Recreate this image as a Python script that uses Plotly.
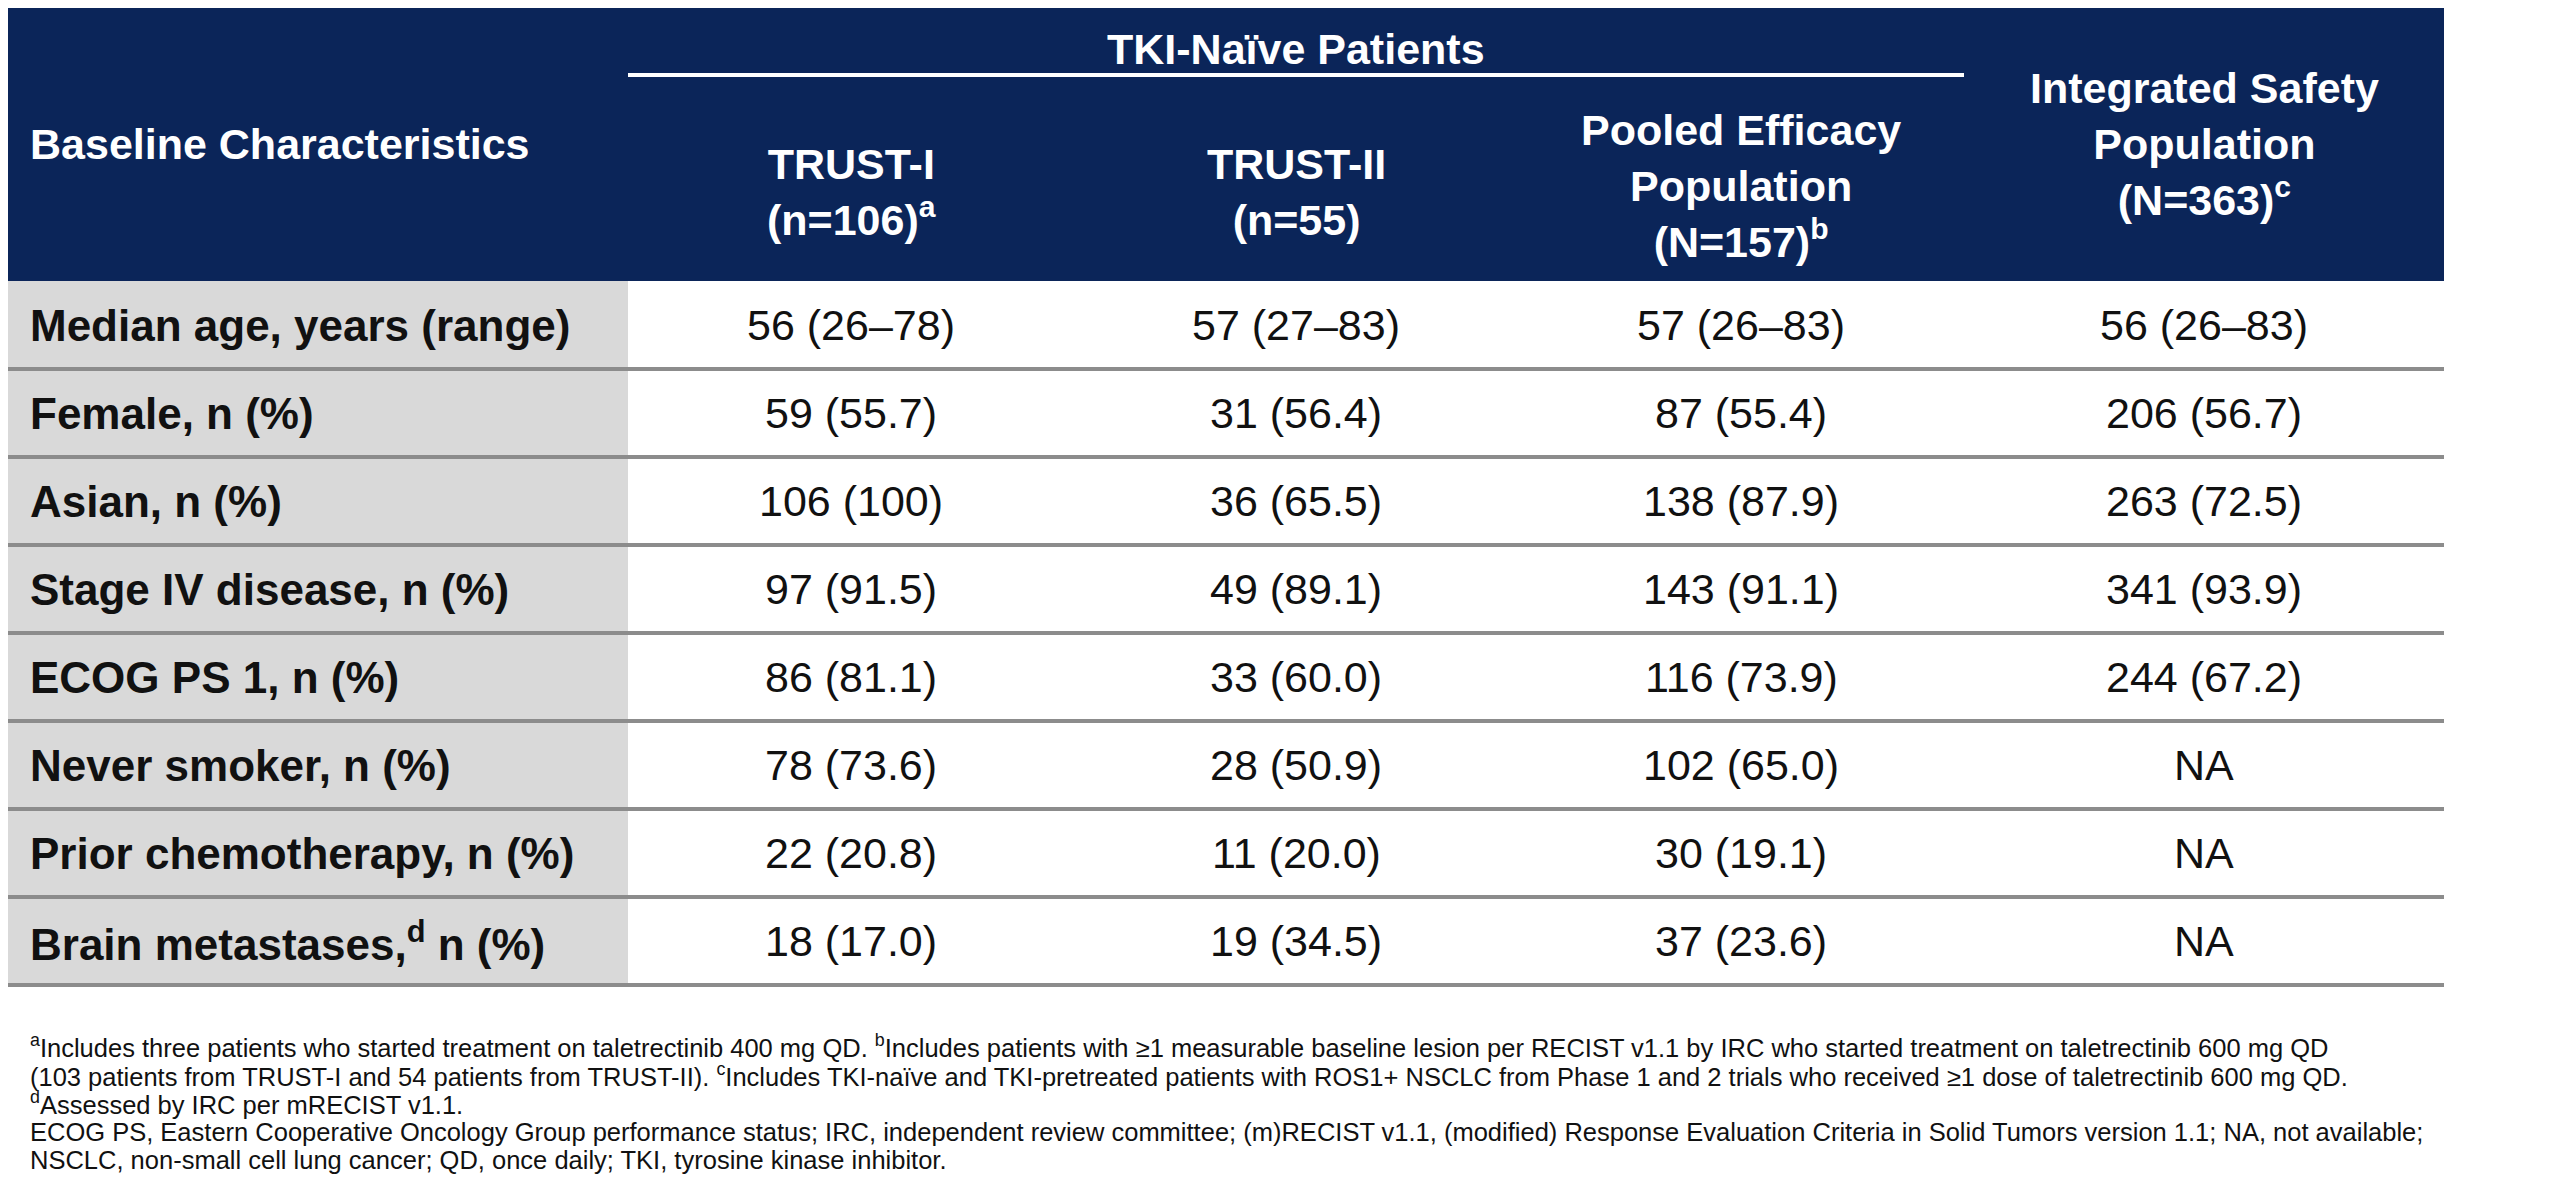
import plotly.graph_objects as go

# table data
characteristics = ["Median age, years (range)", "Female, n (%)", "Asian, n (%)",
                   "Stage IV disease, n (%)", "ECOG PS 1, n (%)", "Never smoker, n (%)",
                   "Prior chemotherapy, n (%)", "Brain metastases,<sup>d</sup> n (%)"]
trust1 = ["56 (26–78)", "59 (55.7)", "106 (100)", "97 (91.5)", "86 (81.1)", "78 (73.6)", "22 (20.8)", "18 (17.0)"]
trust2 = ["57 (27–83)", "31 (56.4)", "36 (65.5)", "49 (89.1)", "33 (60.0)", "28 (50.9)", "11 (20.0)", "19 (34.5)"]
pooled = ["57 (26–83)", "87 (55.4)", "138 (87.9)", "143 (91.1)", "116 (73.9)", "102 (65.0)", "30 (19.1)", "37 (23.6)"]
integrated = ["56 (26–83)", "206 (56.7)", "263 (72.5)", "341 (93.9)", "244 (67.2)", "NA", "NA", "NA"]
col_headers = ["TRUST-I<br>(n=106)<sup>a</sup>", "TRUST-II<br>(n=55)",
               "Pooled Efficacy<br>Population<br>(N=157)<sup>b</sup>",
               "Integrated Safety<br>Population<br>(N=363)<sup>c</sup>"]
footnotes = [
    "<sup>a</sup>Includes three patients who started treatment on taletrectinib 400 mg QD. <sup>b</sup>Includes patients with ≥1 measurable baseline lesion per RECIST v1.1 by IRC who started treatment on taletrectinib 600 mg QD",
    "(103 patients from TRUST-I and 54 patients from TRUST-II). <sup>c</sup>Includes TKI-naïve and TKI-pretreated patients with ROS1+ NSCLC from Phase 1 and 2 trials who received ≥1 dose of taletrectinib 600 mg QD.",
    "<sup>d</sup>Assessed by IRC per mRECIST v1.1.",
    "ECOG PS, Eastern Cooperative Oncology Group performance status; IRC, independent review committee; (m)RECIST v1.1, (modified) Response Evaluation Criteria in Solid Tumors version 1.1; NA, not available;",
    "NSCLC, non-small cell lung cancer; QD, once daily; TKI, tyrosine kinase inhibitor.",
]

NAVY = "#0b2559"
FONT = "Liberation Sans, Arial, sans-serif"
W, H = 2560, 1204
bounds = [0, 620, 1066, 1510, 1956, 2436]
head_bot = 273
row_h = 88

fig = go.Figure()
shapes = []
ann = []

shapes.append(dict(type="rect", x0=0, x1=bounds[-1], y0=0, y1=head_bot, fillcolor=NAVY, line_width=0, layer="below"))
shapes.append(dict(type="rect", x0=0, x1=bounds[1], y0=head_bot, y1=head_bot + row_h * len(characteristics),
                   fillcolor="#d9d9d9", line_width=0, layer="below"))
shapes.append(dict(type="line", x0=bounds[1], x1=bounds[4], y0=67, y1=67, line=dict(color="white", width=4)))

ann.append(dict(x=(bounds[1] + bounds[4]) / 2, y=41, text="<b>TKI-Naïve Patients</b>", font=dict(size=43, color="white")))
ann.append(dict(x=20, y=136, text="<b>Baseline Characteristics</b>", xanchor="left", font=dict(size=43, color="white")))
head_y = [184, 184, 178, 136]
for i, h in enumerate(col_headers):
    ann.append(dict(x=(bounds[i + 1] + bounds[i + 2]) / 2, y=head_y[i], text="<b>" + h + "</b>",
                    font=dict(size=43, color="white")))

cols = [trust1, trust2, pooled, integrated]
for r, label in enumerate(characteristics):
    yc = head_bot + row_h * (r + 0.5)
    ann.append(dict(x=20, y=yc, text="<b>" + label + "</b>", xanchor="left", font=dict(size=44, color="#111")))
    for c, vals in enumerate(cols):
        ann.append(dict(x=(bounds[c + 1] + bounds[c + 2]) / 2, y=yc, text=vals[r],
                        font=dict(size=43, color="#111")))
    yl = head_bot + row_h * (r + 1)
    shapes.append(dict(type="line", x0=0, x1=bounds[-1], y0=yl, y1=yl, line=dict(color="#8c8c8c", width=4)))

for i, f in enumerate(footnotes):
    ann.append(dict(x=20, y=1038 + 28.6 * i, text=f, xanchor="left", font=dict(size=25.5, color="#111")))

for a in ann:
    a.update(xref="x", yref="y", showarrow=False, yanchor=a.get("yanchor", "middle"))
    a["font"]["family"] = FONT

fig.update_layout(
    width=W, height=H, margin=dict(l=0, r=0, t=0, b=0),
    paper_bgcolor="white", plot_bgcolor="white",
    xaxis=dict(range=[0, W], visible=False, fixedrange=True),
    yaxis=dict(range=[H, 0], visible=False, fixedrange=True),
    shapes=shapes, annotations=ann,
)
fig.write_html("out.html")
